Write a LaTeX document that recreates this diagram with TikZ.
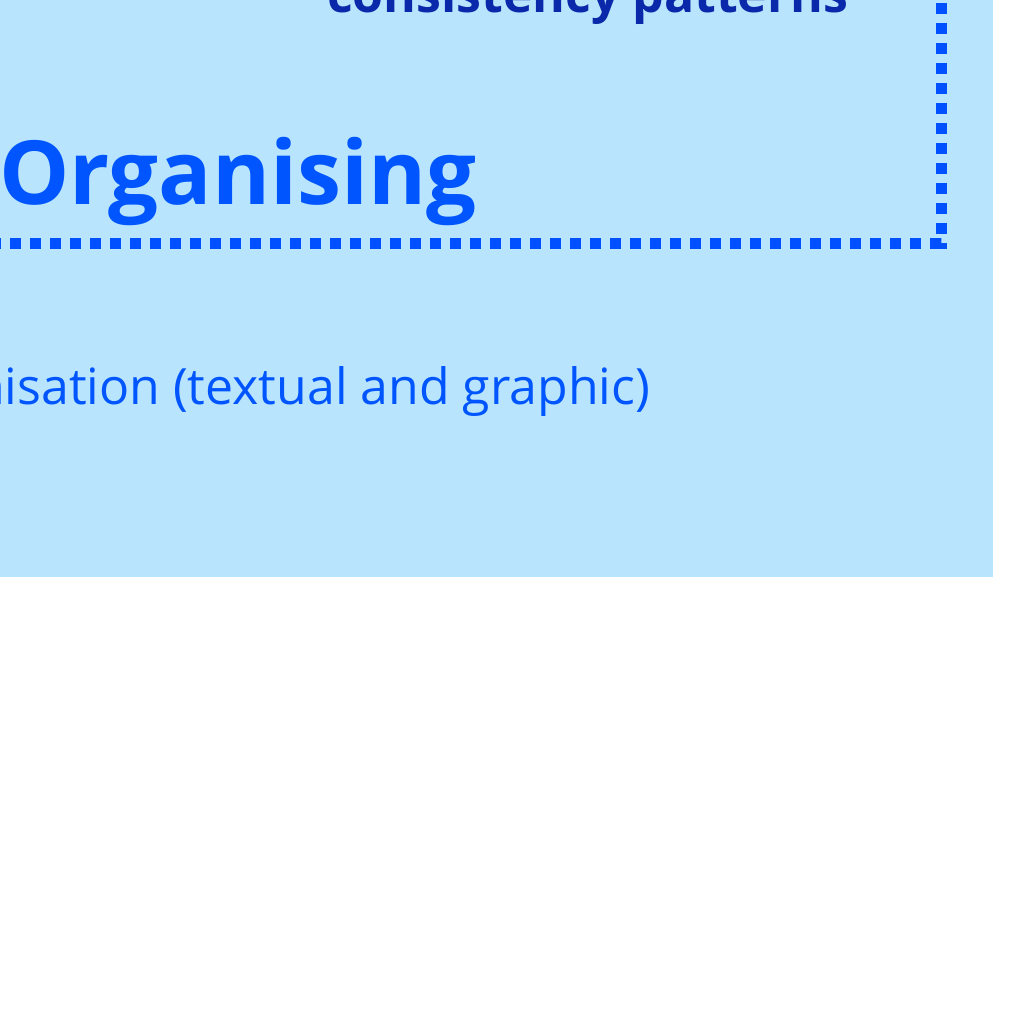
\documentclass[tikz,border=0pt]{standalone}
\usepackage{fontspec}
\setmainfont{Open Sans}
\definecolor{panel}{RGB}{184,228,253}
\definecolor{dotblue}{RGB}{0,80,255}
\definecolor{titleblue}{RGB}{0,85,255}
\definecolor{navy}{RGB}{10,40,170}
\begin{document}
\begin{tikzpicture}[x=1pt,y=-1pt,
  txt/.style={inner sep=0pt,outer sep=0pt},
  dotline/.style={draw=dotblue,line width=11pt,dash pattern=on 11pt off 9pt}]
\useasboundingbox (0,0) rectangle (1024,1024);
\fill[panel] (-10,-10) rectangle (993,577);
\coordinate (tl) at (-30,-30);
\coordinate (br) at (941,243);
\draw[dotline] (tl |- br) -- (br) -- (br |- tl);
\node[txt,anchor=base east,text=navy,font=\bfseries\fontsize{50}{56}\selectfont] (cp) at (848,13) {consistency patterns};
\node[txt,anchor=base west,text=titleblue,font=\bfseries\fontsize{88.5}{96}\selectfont] (org) at (-1,205) {Organising};
\node[txt,anchor=base east,text=titleblue,font=\fontsize{50}{56}\selectfont] (sub) at (650,404) {nisation (textual and graphic)};
\end{tikzpicture}
\end{document}
